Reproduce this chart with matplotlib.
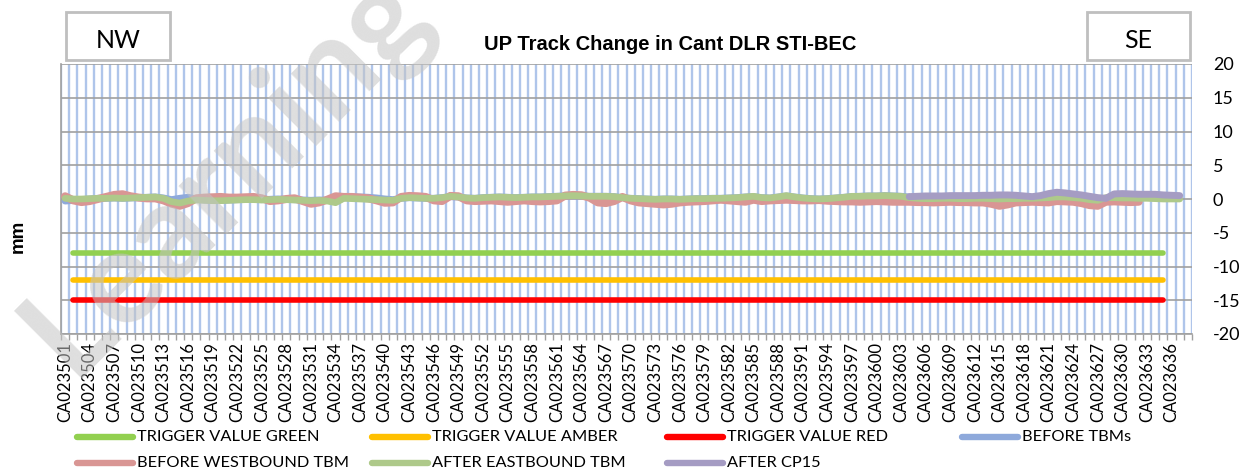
import numpy as np
import matplotlib
matplotlib.use("Agg")
import matplotlib.pyplot as plt
from matplotlib.lines import Line2D
from matplotlib.patches import Rectangle

nan = np.nan

# ---------------- data ----------------
categories = ["CA0235%02d" % k for k in range(1, 100)] + ["CA0236%02d" % k for k in range(0, 39)]
n = len(categories)  # 138 (CA023501 .. CA023638)

trigger_green = [nan] + [-8] * 134 + [nan] * 3
trigger_amber = [nan] + [-12] * 134 + [nan] * 3
trigger_red = [nan] + [-15] * 134 + [nan] * 3

after_eastbound = [
    0.1, 0.0, 0.0, 0.05, 0.1, 0.1, 0.15, 0.1, 0.15, 0.2,
    0.25, 0.3, 0.1, -0.4, -0.6, -0.3, -0.15, -0.2, -0.25, -0.25,
    -0.2, -0.15, -0.1, -0.1, -0.15, -0.1, -0.05, -0.1, -0.15, -0.2,
    -0.25, -0.2, -0.3, -0.55, 0.1, 0.05, 0.0, -0.05, -0.1, -0.15,
    -0.2, 0.1, 0.2, 0.15, 0.1, 0.1, 0.2, 0.4, 0.3, 0.15,
    0.1, 0.2, 0.25, 0.3, 0.25, 0.2, 0.25, 0.3, 0.3, 0.35,
    0.4, 0.45, 0.5, 0.45, 0.4, 0.4, 0.4, 0.35, 0.2, 0.1,
    0.05, 0.0, -0.05, 0.0, 0.0, -0.05, 0.0, 0.05, 0.05, 0.1,
    0.1, 0.15, 0.2, 0.3, 0.4, 0.2, 0.15, 0.3, 0.5, 0.3,
    0.15, 0.05, 0.0, 0.05, 0.15, 0.25, 0.4, 0.4, 0.45, 0.45,
    0.5, 0.45, 0.4, 0.2, 0.1, 0.05, 0.05, 0.1, 0.1, 0.05,
    0.05, 0.1, 0.1, 0.05, 0.0, 0.05, 0.05, 0.1, 0.1, 0.15,
    0.2, 0.3, 0.3, 0.2, 0.1, -0.1, -0.2, 0.2, 0.2, 0.15,
    0.15, 0.1, 0.1, 0.05, 0.0, 0.0, 0.0, nan,
]

before_westbound = [
    0.4, -0.2, -0.45, -0.3, 0.0, 0.3, 0.6, 0.7, 0.4, 0.2,
    0.1, 0.1, -0.2, -0.7, -1.0, -0.6, 0.1, 0.2, 0.25, 0.3,
    0.2, 0.2, 0.25, 0.3, 0.1, -0.3, -0.2, 0.0, 0.1, -0.3,
    -0.7, -0.5, -0.1, 0.4, 0.3, 0.3, 0.2, 0.1, -0.2, -0.55,
    -0.5, 0.3, 0.45, 0.4, 0.3, -0.2, -0.3, 0.45, 0.4, -0.2,
    -0.3, -0.25, -0.2, -0.3, -0.4, -0.3, -0.2, -0.3, -0.35, -0.3,
    -0.2, 0.5, 0.6, 0.55, 0.2, -0.5, -0.6, -0.3, 0.3, -0.2,
    -0.5, -0.6, -0.7, -0.8, -0.7, -0.5, -0.4, -0.35, -0.3, -0.2,
    -0.1, -0.2, -0.3, -0.4, -0.1, -0.3, -0.2, -0.15, -0.1, -0.15,
    -0.2, -0.2, -0.15, -0.25, -0.3, -0.35, -0.35, -0.4, -0.35, -0.3,
    -0.35, -0.4, -0.4, -0.4, -0.45, -0.45, -0.5, -0.45, -0.4, -0.45,
    -0.45, -0.5, -0.5, -0.7, -1.0, -0.8, -0.5, -0.45, -0.4, -0.45,
    -0.5, -0.3, -0.35, -0.4, -0.6, -0.9, -1.0, -0.4, -0.35, -0.4,
    -0.45, -0.4, nan, nan, nan, nan, nan, nan,
]

before_tbms = [
    -0.3, -0.2, -0.1, 0.0, 0.1, 0.1, 0.15, 0.1, 0.15, 0.2,
    0.25, 0.3, 0.15, -0.1, 0.1, 0.25, 0.0, -0.15, -0.2, -0.2,
    -0.15, -0.1, -0.05, -0.05, -0.1, -0.05, 0.0, -0.05, -0.1, -0.15,
    -0.2, -0.15, -0.2, -0.35, 0.15, 0.3, 0.3, 0.25, 0.15, 0.0,
    -0.1, 0.1, 0.2, 0.15, 0.1, 0.1, 0.2, 0.35, 0.3, 0.15,
    0.1, 0.2, 0.25, 0.3, 0.25, 0.2, 0.25, 0.3, 0.3, 0.35,
    0.4, 0.45, 0.5, 0.45, 0.4, 0.4, 0.4, 0.35, 0.2, 0.1,
    0.05, 0.0, -0.05, 0.0, 0.0, -0.05, 0.0, 0.05, 0.05, 0.1,
    0.1, 0.15, 0.2, 0.3, 0.35, 0.2, 0.15, 0.3, 0.45, 0.3,
    0.15, 0.05, 0.0, 0.05, 0.15, 0.25, 0.35, 0.4, 0.45, 0.45,
    0.5, 0.45, 0.4, 0.3, nan, nan, nan, nan, nan, nan,
    nan, nan, nan, nan, nan, nan, nan, nan, nan, nan,
    nan, nan, nan, nan, nan, nan, nan, nan, nan, nan,
    nan, nan, nan, nan, nan, nan, nan, nan,
]

after_cp15 = [nan] * 103 + [
    0.35, 0.4, 0.45, 0.45, 0.45, 0.5, 0.5, 0.5, 0.5, 0.55,
    0.55, 0.6, 0.6, 0.55, 0.45, 0.35, 0.5, 0.8, 1.0, 0.9,
    0.75, 0.6, 0.4, 0.2, 0.1, 0.75, 0.8, 0.75, 0.7, 0.7,
    0.7, 0.6, 0.55, 0.5,
] + [nan]

series_labels = ["TRIGGER VALUE GREEN", "TRIGGER VALUE AMBER", "TRIGGER VALUE RED",
                 "BEFORE TBMs", "BEFORE WESTBOUND TBM", "AFTER EASTBOUND TBM", "AFTER CP15"]
series_values = [trigger_green, trigger_amber, trigger_red,
                 before_tbms, before_westbound, after_eastbound, after_cp15]
series_colors = ["#92D050", "#FFC000", "#FF0000", "#8EA9DB", "#D99694", "#AEC98A", "#A59CC3"]
series_widths = [4.0, 4.0, 4.0, 5.0, 5.8, 4.8, 5.0]

yticks = [-20, -15, -10, -5, 0, 5, 10, 15, 20]
title = "UP Track Change in Cant DLR STI-BEC"

# ---------------- figure ----------------
W, H = 1248, 471
fig = plt.figure(figsize=(W / 100, H / 100), dpi=100)
fig.patch.set_facecolor("white")

def fx(px):
    return px / W

def fy(py):
    return 1 - py / H

ax = fig.add_axes([fx(61), fy(334), fx(1192) - fx(61), fy(64) - fy(334)])
x = np.arange(n)

for vals, col, lw in zip(series_values, series_colors, series_widths):
    ax.plot(x, np.array(vals, dtype=float), color=col, lw=lw,
            solid_capstyle="round", solid_joinstyle="round", zorder=3)

ax.set_xlim(-0.5, n - 0.5)
ax.set_ylim(-20, 20)
ax.set_axisbelow(True)

# category ticks / labels
lab_idx = list(range(0, n, 3))
ax.set_xticks(lab_idx)
ax.set_xticklabels([categories[i] for i in lab_idx], rotation=90,
                   family="Lato", fontsize=12, color="black")
ax.set_xticks(np.arange(-0.5, n, 1), minor=True)
ax.tick_params(axis="x", which="major", length=0, pad=6)
ax.tick_params(axis="x", which="minor", length=4, color="#A0A0A0", width=1)
ax.grid(axis="x", which="minor", color="#AFC5EA", lw=1.7)

# value axis on the right
ax.yaxis.tick_right()
ax.set_yticks(yticks)
ax.set_yticklabels([str(v) for v in yticks], family="Lato", fontsize=13)
ax.tick_params(axis="y", length=0, pad=15)
ax.grid(axis="y", which="major", color="#A0A0A0", lw=1.2)

for s in ["top", "right"]:
    ax.spines[s].set_visible(False)
for s in ["left", "bottom"]:
    ax.spines[s].set_color("#A0A0A0")
    ax.spines[s].set_linewidth(1.2)

# title & axis label
fig.text(fx(670), fy(44), title, ha="center", va="center",
         family="Liberation Sans", fontweight="bold", fontsize=14.5)
fig.text(fx(18), fy(236), "mm", ha="center", va="center", rotation=90,
         family="Liberation Sans", fontweight="bold", fontsize=13.5)

# NW / SE boxes
for (x0, x1, txt) in [(66, 170, "NW"), (1087, 1190, "SE")]:
    fig.add_artist(Rectangle((fx(x0), fy(60)), fx(x1) - fx(x0), fy(12) - fy(60),
                             transform=fig.transFigure, facecolor="white",
                             edgecolor="#BFBFBF", lw=2))
    fig.text(fx((x0 + x1) / 2), fy(40), txt, ha="center", va="center",
             family="Lato", fontsize=18)

# legend (Excel style, row-major, 4 columns)
col_x = [77, 372, 667, 962]
row_y = [437, 463]
for k, (lab, col) in enumerate(zip(series_labels, series_colors)):
    r, c = divmod(k, 4)
    xs, ys = col_x[c], row_y[r]
    fig.add_artist(Line2D([fx(xs), fx(xs + 56)], [fy(ys), fy(ys)],
                          transform=fig.transFigure, color=col, lw=4.6,
                          solid_capstyle="round"))
    fig.text(fx(xs + 60), fy(ys), lab, ha="left", va="center",
             family="Lato", fontsize=11.8)

# watermark
fig.text(fx(226), fy(172), "Learning", ha="center", va="center", rotation=45,
         family="Lato", fontweight="bold", fontsize=96, color="#C4C4C4",
         alpha=0.55, zorder=10)

fig.savefig("out.png", dpi=100, facecolor="white")
